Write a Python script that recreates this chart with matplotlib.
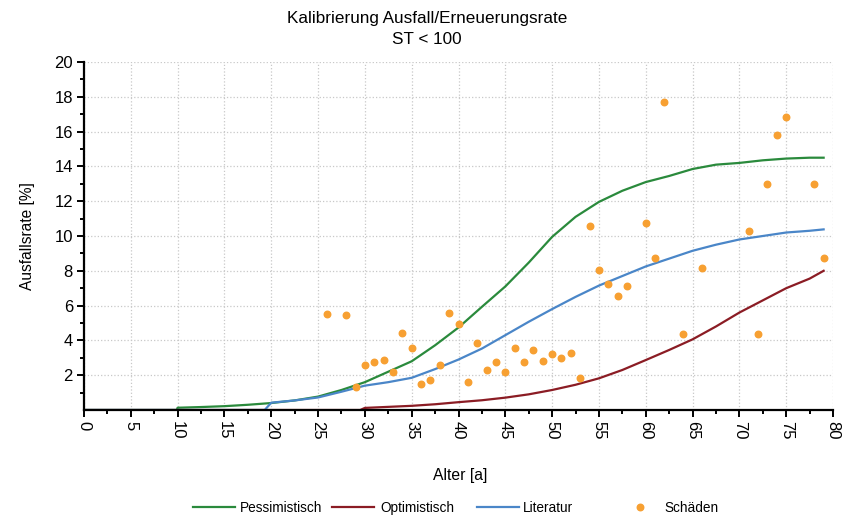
import numpy as np
import matplotlib
matplotlib.use("Agg")
import matplotlib.pyplot as plt
from matplotlib.ticker import MultipleLocator

plt.rcParams['font.family'] = ['Liberation Sans', 'DejaVu Sans']

# Kurven
x_pess = [0, 9.9, 10, 12.5, 15, 17.5, 20, 22.5, 25, 27.5, 30, 32.5, 35, 37.5, 40, 42.5, 45,
          47.5, 50, 52.5, 55, 57.5, 60, 62.5, 65, 67.5, 70, 72.5, 75, 77.5, 79]
y_pess = [0, 0, 0.13, 0.17, 0.22, 0.3, 0.4, 0.55, 0.77, 1.15, 1.6, 2.2, 2.8, 3.72, 4.74, 5.93, 7.1,
          8.47, 9.95, 11.1, 11.96, 12.6, 13.1, 13.45, 13.85, 14.1, 14.2, 14.35, 14.45, 14.5, 14.5]

x_opt = [0, 29.5, 30, 32.5, 35, 37.5, 40, 42.5, 45, 47.5, 50, 52.5, 55, 57.5, 60, 62.5, 65,
         67.5, 70, 72.5, 75, 77.5, 79]
y_opt = [0, 0, 0.12, 0.18, 0.24, 0.33, 0.45, 0.56, 0.71, 0.9, 1.15, 1.45, 1.82, 2.3, 2.87, 3.45, 4.06,
         4.8, 5.6, 6.3, 7.0, 7.55, 8.0]

x_lit = [0, 19.3, 20, 22.5, 25, 27.5, 30, 32.5, 35, 37.5, 40, 42.5, 45, 47.5, 50, 52.5, 55,
         57.5, 60, 62.5, 65, 67.5, 70, 72.5, 75, 77.5, 79]
y_lit = [0, 0, 0.42, 0.55, 0.72, 1.05, 1.4, 1.6, 1.85, 2.35, 2.9, 3.53, 4.3, 5.07, 5.8, 6.5, 7.15,
         7.7, 8.25, 8.7, 9.15, 9.5, 9.8, 10.0, 10.2, 10.3, 10.38]

# Schäden
x_sch = [26, 28, 29, 30, 31, 32, 33, 34, 35, 36, 37, 38, 39, 40, 41, 42, 43, 44, 45, 46, 47, 48,
         49, 50, 51, 52, 53, 54, 55, 56, 57, 58, 60, 61, 62, 64, 66, 71, 72, 73, 74, 75, 78, 79]
y_sch = [5.5, 5.45, 1.35, 2.6, 2.75, 2.9, 2.2, 4.4, 3.57, 1.5, 1.7, 2.6, 5.58, 4.97, 1.62, 3.86,
         2.29, 2.77, 2.19, 3.57, 2.75, 3.47, 2.8, 3.2, 3.0, 3.28, 1.86, 10.58, 8.03, 7.25, 6.54,
         7.13, 10.73, 8.76, 17.71, 4.37, 8.15, 10.28, 4.37, 12.96, 15.79, 16.85, 12.96, 8.76]

fig = plt.figure(figsize=(8.46, 5.17), dpi=100)
ax = fig.add_axes([84/846, 1-410/517, 749/846, 348/517])

l1, = ax.plot(x_pess, y_pess, color='#2a8a3c', lw=1.6, label='Pessimistisch')
l2, = ax.plot(x_opt, y_opt, color='#8b1c24', lw=1.6, label='Optimistisch')
l3, = ax.plot(x_lit, y_lit, color='#4a86c8', lw=1.6, label='Literatur')
sc = ax.scatter(x_sch, y_sch, s=22, color='#f7a032', zorder=3, label='Schäden')

ax.set_xlim(0, 80)
ax.set_ylim(0, 20)
ax.set_xticks(np.arange(0, 81, 5))
ax.xaxis.set_minor_locator(MultipleLocator(2.5))
ax.set_yticks(np.arange(2, 21, 2))
ax.set_yticks(np.arange(1, 20, 2), minor=True)
ax.tick_params(axis='x', labelrotation=-90)
ax.tick_params(which='major', direction='out', length=5, width=1.4, labelsize=12, pad=3)
ax.tick_params(which='minor', direction='out', length=3, width=1.4)

ax.grid(True, which='major', color='#c8c8c8', linestyle=':', linewidth=0.9)
for s in ['top', 'right']:
    ax.spines[s].set_visible(False)
for s in ['left', 'bottom']:
    ax.spines[s].set_linewidth(1.6)

fig.text(427/846, 1-18/517, 'Kalibrierung Ausfall/Erneuerungsrate', ha='center', va='center', fontsize=12.3)
fig.text(427/846, 1-39/517, 'ST < 100', ha='center', va='center', fontsize=12.3)
ax.set_xlabel('Alter [a]', fontsize=11.3)
ax.set_ylabel('Ausfallsrate [%]', fontsize=11.2)
ax.xaxis.set_label_coords((460-84)/749, -0.168)
ax.yaxis.set_label_coords(-0.066, 0.5)

# Legende: feste Positionen wie im Original
fs = 9.8
px = fs * 100 / 72
entries = [(l1, 193), (l2, 332), (l3, 477), (sc, 619)]
text_x = [240, 380, 523, 664]
hl = 42
for (h, x0), tx in zip(entries, text_x):
    fig.legend(handles=[h], loc='center left', bbox_to_anchor=(x0/846, 1-508/517),
               frameon=False, fontsize=fs, borderpad=0, borderaxespad=0,
               handlelength=hl/px, handletextpad=(tx-x0-hl)/px,
               scatterpoints=1, scatteryoffsets=[0.5])

fig.savefig('out.png', dpi=100)
